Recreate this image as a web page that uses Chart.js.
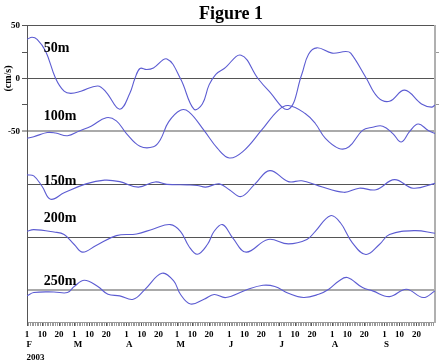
<!DOCTYPE html>
<html><head><meta charset="utf-8">
<script src="https://cdn.jsdelivr.net/npm/chart.js@4.4.1/dist/chart.umd.min.js"></script>
<style>html,body{margin:0;padding:0;background:#fff}#wrap{width:440px;height:364px;position:relative}</style>
</head><body><div id="wrap"><canvas id="c"></canvas></div>
<script>
// x values: days since 1 Feb 2003
const monthLetters = ['F','M','A','M','J','J','A','S'];
const monthLengths = [28,31,30,31,30,31,31,30];
const dayTickLabels = [1,10,20];
const yearLabel = '2003';
const yTickValues = [50,25,0,-25,-50,-100,-150,-200];
const yTickLabels = [50,0,-50];
const depthNames = ['50m','100m','150m','200m','250m'];
const depthOffsets = [0,-50,-100,-150,-200];

const days50 = [0,3,6,11,17,22,26,32,42,47,55,61,64,67,71,75,83,91,99,104,108,112,117,127,137,143,155,163,167,172,181,189,192,201,208,215,224,234,240,242];
const vel50  = [37,39,37,26,0,-12,-14,-12,-7,-13,-29,-14,0,9.5,8.5,10,18.5,0,-29,-24,-6,4,9.5,22,0,-11,-29,4,23,29,24,25.5,24,1,-17.5,-21.5,-11,-24,-27,-25];

const days100 = [0,4,12,17,24,31,38,47,53,59,67,75,79,84,91,96,105,113,120,128,139,149,155,165,171,177,185,191,199,205,211,217,222,227,232,238,242];
const vel100  = [-6.5,-5,-1,-1.5,-4,0.5,5,13,10,-2,-14,-14.5,-8,9,20,18.5,1,-16,-25,-19,1,20,24.5,17,7.5,-6.5,-16,-14.5,1,4,5,-2,-10,0,7,1,-2];

const days150 = [0,4,9,14,22,35,46,55,66,76,83,95,101,106,114,120,127,135,144,155,163,173,188,197,207,218,229,242];
const vel150  = [9,8,-2,-14,-8,0.5,4,2.6,-2.6,2.3,0,-0.5,-1,-2.6,0.5,-5,-11.5,0,13,2.6,3.4,-1.4,-7.5,-3.6,-5,4.5,-3.6,1];

const days200 = [0,4,16,22,28,33,41,53,65,75,85,91,96,101,107,111,116,122,130,143,155,166,171,180,186,193,201,209,215,230,242];
const vel200  = [5.7,7.3,5,2.6,-6.8,-14,-7.7,1.6,3.2,7.9,12,5.7,-8.4,-16,-6.8,5.7,12,-0.5,-14,-2,-6.2,-2,5.7,20.4,13.5,-5.2,-16.2,-6.8,2.6,6.3,3.8];

const days250 = [0,4,16,24,28,34,42,48,55,63,70,80,87,91,97,105,111,118,130,140,147,155,164,173,179,185,190,199,205,215,225,235,242];
const vel250  = [-5.3,-2.2,-1.6,-2.2,3.5,9.4,3.5,-3.8,-5.3,-8.5,0.9,16,8.8,-3.8,-13,-8.5,-4,-6.9,0.3,4.7,3.5,-2.8,-6.9,-3.8,1,8.8,12,2.5,-0.6,-6,1,-6.9,-0.6];

const seriesDays = [days50,days100,days150,days200,days250];
const seriesVel = [vel50,vel100,vel150,vel200,vel250];

// derived tick structure
const monthStarts = [];
let total = 0;
monthLengths.forEach(l => { monthStarts.push(total); total += l; });
const tickDays = [];
const tickText = {};
monthLengths.forEach((len, m) => {
  for (let d = 1; d <= len; d++) {
    const v = monthStarts[m] + d - 1;
    tickDays.push(v);
    if (dayTickLabels.includes(d)) tickText[v] = String(d);
  }
});

const SERIF = '"Liberation Serif", "Times New Roman", serif';
Chart.defaults.font.family = SERIF;
Chart.defaults.color = '#000';

const datasets = depthNames.map((name, i) => ({
  label: name,
  data: seriesDays[i].map((d, j) => ({x: d, y: seriesVel[i][j] + depthOffsets[i]})),
  borderColor: '#5c5cd2',
  borderWidth: 1.1,
  pointRadius: 0,
  fill: false,
  tension: 0.4
}));

const labelStyle = {day: 10, lift: [28.6, 14.3, 2.8, 17.6, 8]};

const textPlugin = {
  id: 'texts',
  afterDraw(chart) {
    const ctx = chart.ctx, xs = chart.scales.x, ys = chart.scales.y;
    ctx.save();
    ctx.fillStyle = '#000';
    ctx.font = 'bold 14px ' + SERIF;
    ctx.textAlign = 'left';
    ctx.textBaseline = 'middle';
    depthNames.forEach((n, i) => {
      ctx.fillText(n, xs.getPixelForValue(labelStyle.day), ys.getPixelForValue(depthOffsets[i] + labelStyle.lift[i]));
    });
    // month letters and year
    ctx.font = 'bold 9px ' + SERIF;
    ctx.textBaseline = 'alphabetic';
    monthLetters.forEach((m, i) => {
      ctx.fillText(m, xs.getPixelForValue(monthStarts[i]) - 0.5, xs.top + 24.7);
    });
    ctx.fillText(yearLabel, xs.getPixelForValue(0) - 0.5, xs.top + 37.5);
    // y title
    ctx.font = 'bold 10px ' + SERIF;
    ctx.translate(8.5, ys.getPixelForValue(0));
    ctx.rotate(-Math.PI / 2);
    ctx.textAlign = 'center';
    ctx.textBaseline = 'middle';
    ctx.fillText('(cm/s)', 0, 0);
    ctx.restore();
  }
};

const gridColor = v => (v === -50 || v === -200) ? '#aaaaaa' : ((v === 25 || v === -25) ? 'rgba(0,0,0,0)' : '#555555');
const gridWidth = v => (v === -50 || v === -200) ? 2 : 1;

new Chart(document.getElementById('c'), {
  type: 'line',
  data: {datasets},
  options: {
    responsive: true,
    maintainAspectRatio: false,
    animation: false,
    events: [],
    layout: {padding: {top: 0, left: 0, right: 0, bottom: 0}},
    plugins: {
      legend: {display: false},
      tooltip: {enabled: false},
      title: {
        display: true,
        text: 'Figure 1',
        fullSize: false,
        color: '#000',
        font: {family: SERIF, size: 18, weight: 'bold', lineHeight: 1.2},
        padding: {top: 4, bottom: 0}
      }
    },
    scales: {
      x: {
        type: 'linear',
        position: 'bottom',
        min: 0,
        max: total,
        afterBuildTicks: s => { s.ticks = tickDays.map(v => ({value: v})); },
        afterFit: s => { s.height = 42; },
        ticks: {
          autoSkip: false,
          maxRotation: 0,
          minRotation: 0,
          padding: 3,
          font: {family: SERIF, size: 9, weight: 'bold'},
          color: '#000',
          callback: v => tickText[v] !== undefined ? tickText[v] : ''
        },
        grid: {
          drawOnChartArea: false,
          tickLength: 4,
          tickWidth: 1,
          tickColor: c => (c.tick && tickText[c.tick.value] !== undefined) ? '#555' : '#999'
        },
        border: {color: '#999', width: 1}
      },
      y: {
        type: 'linear',
        position: 'left',
        min: -230,
        max: 50,
        afterBuildTicks: s => { s.ticks = yTickValues.map(v => ({value: v})); },
        afterFit: s => { s.width = 27; },
        ticks: {
          padding: 2,
          font: {family: SERIF, size: 9, weight: 'bold'},
          color: '#000',
          callback: v => yTickLabels.includes(v) ? String(v) : ''
        },
        grid: {
          color: c => gridColor(c.tick ? c.tick.value : 0),
          lineWidth: c => gridWidth(c.tick ? c.tick.value : 0),
          tickColor: c => (c.tick && c.tick.value >= -50) ? '#555' : 'rgba(0,0,0,0)',
          tickLength: 5,
          tickWidth: 1
        },
        border: {color: '#555', width: 1}
      },
      y2: {
        type: 'linear',
        position: 'right',
        min: -230,
        max: 50,
        afterBuildTicks: s => { s.ticks = [25, -25].map(v => ({value: v})); },
        afterFit: s => { s.width = 5; },
        ticks: {display: false},
        grid: {drawOnChartArea: false, tickLength: 4, tickColor: '#999'},
        border: {color: '#b0b0b0', width: 2}
      }
    }
  },
  plugins: [textPlugin]
});
</script>
</body></html>
